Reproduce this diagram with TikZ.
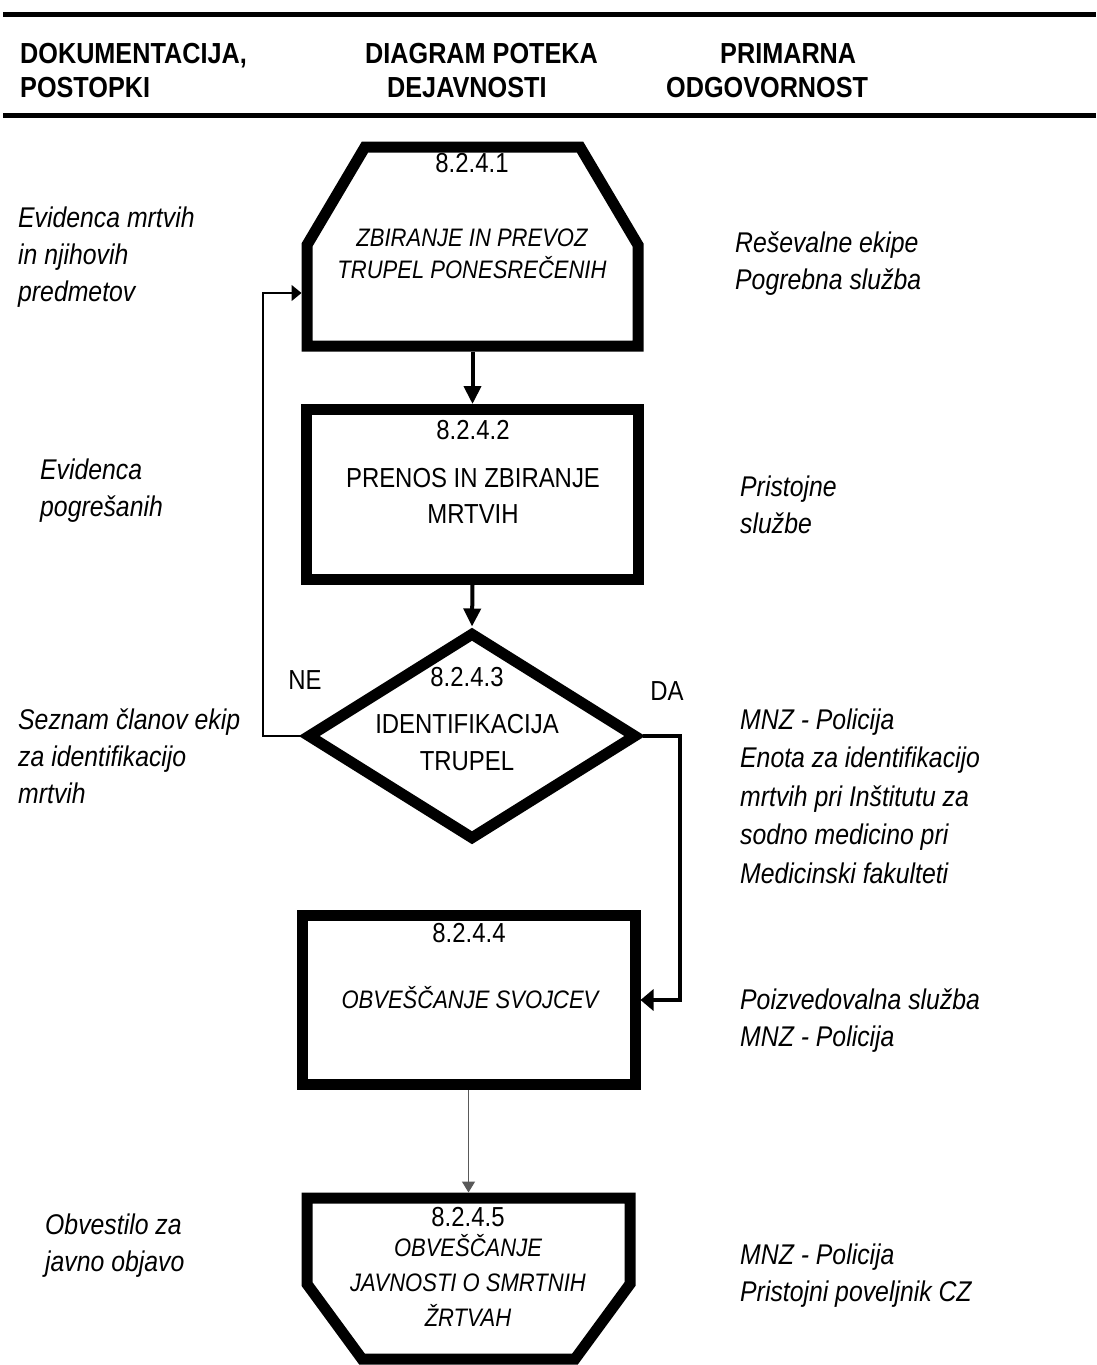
\documentclass[tikz,border=0pt]{standalone}
\usepackage{fontspec}
\setmainfont{Liberation Sans}[FakeStretch=0.87]
\usetikzlibrary{arrows.meta,shapes.geometric}
\tikzset{
 heavy/.style={draw, line width=11pt},
 ghost/.style={inner sep=0pt, outer sep=0pt},
 flow/.style={line width=4pt, -{Triangle[length=18pt,width=17pt]}},
 yesflow/.style={line width=4pt, -{Triangle[length=13pt,width=21pt]}},
 noflow/.style={line width=1.3pt, -{Triangle[length=10pt,width=16pt]}},
 greyflow/.style={line width=1.3pt, draw=black!65, -{Triangle[length=11pt,width=13pt]}},
 hdr/.style={anchor=base west, inner sep=0pt, font=\bfseries\fontsize{29}{34}\selectfont},
 side/.style={anchor=north west, align=left, inner sep=0pt, font=\itshape\fontsize{28.5}{#1}\selectfont, yshift={0.7*#1pt}},
 side/.default=37,
 num/.style={anchor=base, inner sep=0pt, font=\fontsize{27.5}{30}\selectfont},
 rtitle/.style={anchor=north, align=center, inner sep=0pt, font=\fontsize{27.5}{#1}\selectfont, yshift={0.7*#1pt}},
 ititle/.style={anchor=north, align=center, inner sep=0pt, font=\itshape\fontsize{25.3}{#1}\selectfont, yshift={0.7*#1pt}},
 lbl/.style={anchor=base, inner sep=0pt, font=\fontsize{27.5}{30}\selectfont},
}
\begin{document}
\begin{tikzpicture}[x=1pt,y=-1pt,line join=miter]
\useasboundingbox (0,0) rectangle (1096,1365);
\fill[white] (0,0) rectangle (1096,1365);

% header rules
\draw[line width=5pt] (3,14.5) -- (1096,14.5);
\draw[line width=5pt] (3,115.5) -- (1096,115.5);

% header texts
\node[hdr] (h1a) at (20,63) {DOKUMENTACIJA,};
\node[hdr] (h1b) at (20,97) {POSTOPKI};
\node[hdr] (h2a) at (365,63) {DIAGRAM POTEKA};
\node[hdr] (h2b) at (387,97) {DEJAVNOSTI};
\node[hdr] (h3a) at (720,63) {PRIMARNA};
\node[hdr] (h3b) at (666,97) {ODGOVORNOST};

% shape 1
\node[ghost, minimum width=342pt, minimum height=210pt] (s1) at (472.5,246.5) {};
\draw[line width=11pt] (307,346) -- (307,245) -- (365,147) -- (580,147) -- (638,245) -- (638,346) -- cycle;
\node[num] (n1) at (472,172) {8.2.4.1};
\node[ititle=32] (t1) at (472,246) {\strut ZBIRANJE IN PREVOZ\\TRUPEL PONESREČENIH};

% box 2
\node[heavy, minimum width=332pt, minimum height=169.5pt, inner sep=0pt] (b2) at (472.5,494.25) {};
\node[num] (n2) at (473,439) {8.2.4.2};
\node[rtitle=36] (t2) at (473,487) {\strut PRENOS IN ZBIRANJE\\MRTVIH};

% diamond
\node[heavy, diamond, aspect=1.587, minimum width=330pt, minimum height=208pt, inner sep=0pt] (dia) at (472,736) {};
\node[num] (n3) at (467,686) {8.2.4.3};
\node[rtitle=37] (t3) at (467,733) {\strut IDENTIFIKACIJA\\TRUPEL};
\node[lbl] (ne) at (305,689) {NE};
\node[lbl] (da) at (667,700) {DA};

% box 4
\node[heavy, minimum width=333pt, minimum height=169pt, inner sep=0pt] (b4) at (468.5,1000) {};
\node[num] (n4) at (469,942) {8.2.4.4};
\node[ititle=34] (t4) at (470,1008) {\strut OBVEŠČANJE SVOJCEV};

% shape 5
\node[ghost, minimum width=334pt, minimum height=172pt] (s5) at (468.5,1278.5) {};
\draw[line width=11pt] (307,1198) -- (630,1198) -- (630,1284) -- (575,1359) -- (362,1359) -- (307,1284) -- cycle;
\node[num] (n5) at (468,1226) {8.2.4.5};
\node[ititle=35] (t5) at (468,1256) {\strut OBVEŠČANJE\\JAVNOSTI O SMRTNIH\\ŽRTVAH};

% connectors
\coordinate (neC) at (263,293);
\coordinate (daC) at (680,1000);
\draw[flow] (s1.south) -- (b2.north);
\draw[flow] (b2.south) -- (dia.north);
\draw[noflow] (dia.west) -| (neC) -- (neC -| s1.west);
\draw[yesflow] (dia.east) -| (daC) -- (daC -| b4.east);
\draw[greyflow] (b4.south) -- (s5.north);

% left column
\node[side] (l1) at (18,227) {\strut Evidenca mrtvih\\in njihovih\\predmetov};
\node[side] (l2) at (40,479) {\strut Evidenca\\pogrešanih};
\node[side] (l3) at (18,729) {\strut Seznam članov ekip\\za identifikacijo\\mrtvih};
\node[side] (l4) at (45,1234) {\strut Obvestilo za\\javno objavo};

% right column
\node[side] (r1) at (735,252) {\strut Reševalne ekipe\\Pogrebna služba};
\node[side] (r2) at (740,496) {\strut Pristojne\\službe};
\node[side=38.5] (r3) at (740,729) {\strut MNZ - Policija\\Enota za identifikacijo\\mrtvih pri Inštitutu za\\sodno medicino pri\\Medicinski fakulteti};
\node[side] (r4) at (740,1009) {\strut Poizvedovalna služba\\MNZ - Policija};
\node[side] (r5) at (740,1264) {\strut MNZ - Policija\\Pristojni poveljnik CZ};
\end{tikzpicture}
\end{document}
